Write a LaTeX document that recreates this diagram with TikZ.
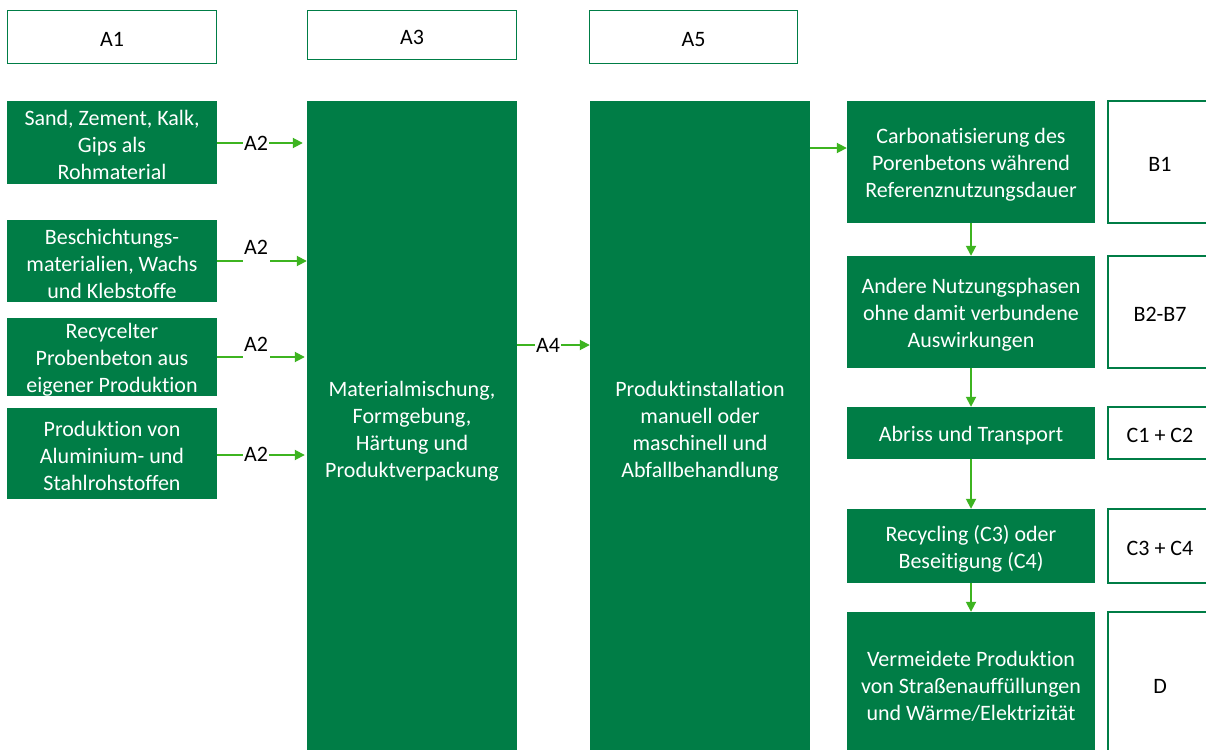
\documentclass[tikz,border=0pt]{standalone}
\usepackage{fontspec}
\setmainfont[Ligatures=NoCommon]{Carlito}
\usetikzlibrary{arrows.meta}
\definecolor{dg}{HTML}{007D46}
\definecolor{lg}{HTML}{3DB420}
\newcommand\boxtxt[3][white]{\node[text=#1, yshift=-2.5pt] (t#2) at (#2.center) {#3};}
\begin{document}
\begin{tikzpicture}[x=1pt,y=-1pt,
  every node/.style={font=\fontsize{22}{27}\selectfont, align=center, inner sep=0pt},
  gbox/.style={fill=dg, draw=none},
  wbox/.style={fill=white, draw=dg, line width=1.6pt},
  gl/.style={draw=lg, line width=1.8pt},
  arr/.style={gl, -{Triangle[length=10pt,width=10pt]}},
  lab/.style={text=black}]
\useasboundingbox (0,0) rectangle (1206,749);
\fill[white] (0,0) rectangle (1206,749);
% top labels
\node[wbox, minimum width=209pt, minimum height=53pt] (a1) at (112,37) {};
\node[wbox, minimum width=209pt, minimum height=49pt] (a3) at (412,35) {};
\node[wbox, minimum width=208pt, minimum height=53pt] (a5) at (693.5,37) {};
\boxtxt[black]{a1}{A1}
\boxtxt[black]{a3}{A3}
\boxtxt[black]{a5}{A5}
% left boxes
\node[gbox, minimum width=210pt, minimum height=83pt] (s1) at (112,142.5) {};
\node[gbox, minimum width=210pt, minimum height=82pt] (s2) at (112,261) {};
\node[gbox, minimum width=210pt, minimum height=78pt] (s3) at (112,357) {};
\node[gbox, minimum width=210pt, minimum height=91pt] (s4) at (112,453.5) {};
\boxtxt{s1}{Sand, Zement, Kalk,\\Gips als\\Rohmaterial}
\boxtxt{s2}{Beschichtungs-\\materialien, Wachs\\und Klebstoffe}
\boxtxt{s3}{Recycelter\\Probenbeton aus\\eigener Produktion}
\boxtxt{s4}{Produktion von\\Aluminium- und\\Stahlrohstoffen}
% big boxes
\node[gbox, minimum width=210pt, minimum height=655pt] (m3) at (412,428.5) {};
\node[gbox, minimum width=220pt, minimum height=655pt] (m5) at (700,428.5) {};
\boxtxt{m3}{Materialmischung,\\Formgebung,\\Härtung und\\Produktverpackung}
\boxtxt{m5}{Produktinstallation\\manuell oder\\maschinell und\\Abfallbehandlung}
% right green boxes
\node[gbox, minimum width=248pt, minimum height=122pt] (r1) at (971,162) {};
\node[gbox, minimum width=248pt, minimum height=112pt] (r2) at (971,312) {};
\node[gbox, minimum width=248pt, minimum height=52pt] (r3) at (971,433) {};
\node[gbox, minimum width=248pt, minimum height=74pt] (r4) at (971,546) {};
\node[gbox, minimum width=248pt, minimum height=144pt] (r5) at (971,684) {};
\boxtxt{r1}{Carbonatisierung des\\Porenbetons während\\Referenznutzungsdauer}
\boxtxt{r2}{Andere Nutzungsphasen\\ohne damit verbundene\\Auswirkungen}
\boxtxt{r3}{Abriss und Transport}
\boxtxt{r4}{Recycling (C3) oder\\Beseitigung (C4)}
\boxtxt{r5}{Vermeidete Produktion\\von Straßenauffüllungen\\und Wärme/Elektrizität}
% right white boxes
\node[wbox, minimum width=104pt, minimum height=122pt] (b1) at (1160,162) {};
\node[wbox, minimum width=104pt, minimum height=112pt] (b2) at (1160,312) {};
\node[wbox, minimum width=104pt, minimum height=52pt] (c12) at (1160,433) {};
\node[wbox, minimum width=104pt, minimum height=74pt] (c34) at (1160,546) {};
\node[wbox, minimum width=104pt, minimum height=144pt] (d) at (1160,684) {};
\boxtxt[black]{b1}{B1}
\boxtxt[black]{b2}{B2-B7}
\boxtxt[black]{c12}{C1 + C2}
\boxtxt[black]{c34}{C3 + C4}
\boxtxt[black]{d}{D}
% A2 arrows
\draw[arr, shorten >=4pt] (s1.east |- 0,143) -- (m3.west |- 0,143);
\node[lab, fill=white, inner xsep=1pt, inner ysep=1pt] (l1) at (256,143) {A2};
\coordinate (p2a) at (243,261); \coordinate (p2b) at (270,261);
\draw[gl] (s2.east |- p2a) -- (p2a);
\draw[arr] (p2b) -- (m3.west |- p2b);
\node[lab] (l2) at (256,247) {A2};
\coordinate (p3a) at (243,357); \coordinate (p3b) at (270,357);
\draw[gl] (s3.east |- p3a) -- (p3a);
\draw[arr, shorten >=2pt] (p3b) -- (m3.west |- p3b);
\node[lab] (l3) at (256,344) {A2};
\draw[arr, shorten >=2pt] (s4.east |- 0,455) -- (m3.west |- 0,455);
\node[lab, fill=white, inner xsep=1pt, inner ysep=1pt] (l4) at (256,454) {A2};
% A4
\draw[arr] (m3.east |- 0,345) -- (m5.west |- 0,345);
\node[lab, fill=white, inner xsep=1pt, inner ysep=1pt] (l5) at (548,345) {A4};
% right arrows
\draw[arr] (m5.east |- 0,148) -- (r1.west |- 0,148);
\draw[arr] (r1.south) -- (r2.north);
\draw[arr] (r2.south) -- (r3.north);
\draw[arr] (r3.south) -- (r4.north);
\draw[arr] (r4.south) -- (r5.north);
\end{tikzpicture}
\end{document}
